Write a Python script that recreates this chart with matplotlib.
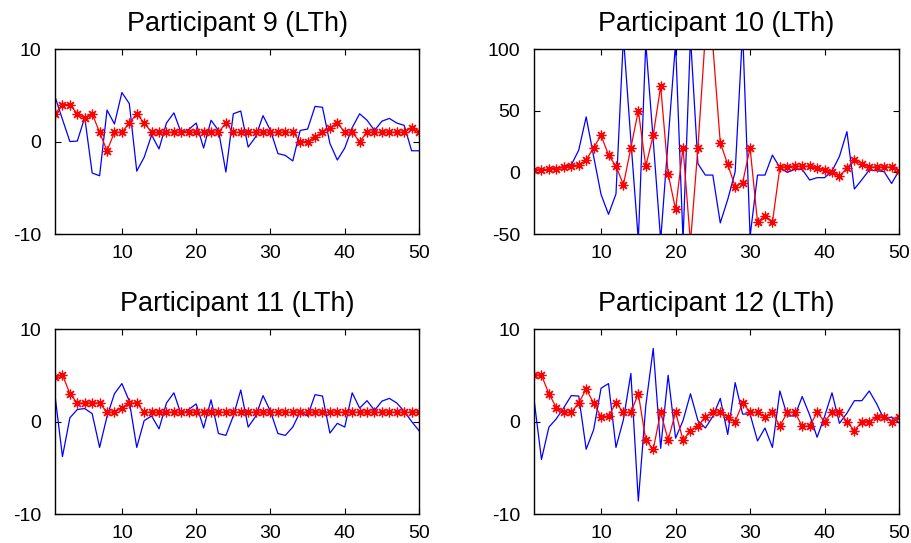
import matplotlib
matplotlib.use('Agg')
import matplotlib.pyplot as plt
import numpy as np

plt.rcParams['font.family'] = ['Liberation Sans', 'DejaVu Sans']
plt.rcParams['axes.unicode_minus'] = False

# trial index (x axis)
trials = np.arange(1, 51)

titles = ['Participant 9 (LTh)', 'Participant 10 (LTh)',
          'Participant 11 (LTh)', 'Participant 12 (LTh)']

# blue line = raw signal, red line with asterisks = estimate
p9_blue = [4.85, 2.4, 0, 0.05, 2.6, -3.4, -3.7, 3.4, 1.9, 5.3,
           4.1, -3.2, -1.7, 0.7, -0.8, 2, 3.1, 0.9, 1.3, 2,
           -0.7, 2.3, 1.2, -3.3, 3.0, 3.3, -0.6, 0.5, 2.8, 1.2,
           -1.3, -1.5, -2.1, 1.2, 1.35, 3.8, 3.7, -0.2, -2, -0.7,
           1.5, 3.0, 2.3, 1.2, 2.2, 2.5, 2, 1.75, -1, -1]
p9_red = [3, 4, 4, 3, 2.5, 3, 1, -1, 1, 1,
          2, 3, 2, 1, 1, 1, 1, 1, 1, 1,
          1, 1, 1, 2, 1, 1, 1, 1, 1, 1,
          1, 1, 1, 0, 0, 0.5, 1, 1.5, 2, 1,
          1, 0, 1, 1, 1, 1, 1, 1, 1.5, 1]

p10_blue = [1.4, 2, 2.5, 3.5, 4.6, 6, 18, 45, 13, -18,
            -34, -17.5, 110, 26, -55, 105, 26, -55, 26, 105,
            -55, 110, 7, -2.2, -2.2, -41, -22, 0.5, 115, -52,
            -2.2, -2.2, 14, 3.8, 0, 2.4, 2.4, -6.2, -4.3, -4.3,
            1, 13, 33, -13.5, -6, 1.9, 1.4, 0.5, -9, 1.4]
p10_red = [2, 2, 2.5, 3, 4, 5, 6, 10, 20, 30,
           14, 5, -10, 20, 50, 5, 30, 70, -1, -30,
           20, -57, 20, 112, 103, 24, 6.5, -11.6, -8.4, 20,
           -40.5, -35, -40.5, 4, 4.6, 5, 5, 5, 3.5, 1.6,
           0, -3, 3.5, 10, 6.8, 4.3, 4.3, 4.3, 4.3, 1.4]

p11_blue = [2.8, -3.8, 0.4, 1.3, 1.4, 0.85, -2.8, 0.55, 3.0, 4.1,
            2.2, -2.8, 0.1, 0.6, -0.8, 2.0, 3.1, 0.7, 1.3, 1.9,
            -0.7, 2.35, -1.3, -1.5, 0.6, 3.4, -0.6, 0.55, 2.8, 1.1,
            -1.3, -1.5, -0.6, 1.05, 0.6, 2.9, 2.75, -1.25, -0.2, -0.6,
            3.1, 1.45, 2.25, 1.2, 2.2, 2.5, 2, 1.1, 0, -1]
p11_red = [4.8, 5.05, 3, 2, 2, 2, 2, 1, 1, 1.5,
           2, 2, 1, 1, 1, 1, 1, 1, 1, 1,
           1, 1, 1, 1, 1, 1, 1, 1, 1, 1,
           1, 1, 1, 1, 1, 1, 1, 1, 1, 1,
           1, 1, 1, 1, 1, 1, 1, 1, 1, 1]

p12_blue = [2.4, -4.1, -0.6, 0.3, 1.5, 2.8, 2.75, -3.0, -0.9, 3.6,
            4.1, -2.8, 0.2, 5.2, -8.6, 1.7, 7.9, -2.9, 5.0, -1.8,
            0.1, 3.0, 0.1, -0.7, 0.55, 2.5, -1.4, 4.2, 0.8, 0.8,
            -2.1, -0.7, -2.8, 3.3, 0.6, 0.6, 2.7, 0.7, -1.7, 0.55,
            3.1, -0.2, 0.9, 2.25, 2.25, 3.3, 1.9, 0.2, 0.5, -0.15]
p12_red = [5, 5, 3, 1.5, 1, 1, 2, 3.5, 2, 0.5,
           0.6, 2, 1, 1, 3, -2, -3, 1, -2, 1,
           -2, -1, -0.5, 0.5, 1, 1, 0.5, 0, 2, 1,
           1, 0.5, 1, -0.5, 1, 1, -0.5, -0.5, 1, 0,
           1, 1, 0, -1, 0, 0, 0.5, 0.5, 0, 0.5]

blues = [p9_blue, p10_blue, p11_blue, p12_blue]
reds = [p9_red, p10_red, p11_red, p12_red]
ylims = [(-10, 10), (-50, 100), (-10, 10), (-10, 10)]
yticks = [[-10, 0, 10], [-50, 0, 50, 100], [-10, 0, 10], [-10, 0, 10]]

fig = plt.figure(figsize=(9.11, 5.43), dpi=100)

# axes boxes in figure fraction (left, bottom, width, height)
boxes = [[0.0604, 0.569, 0.3996, 0.3407],
         [0.5862, 0.569, 0.4007, 0.3407],
         [0.0604, 0.0534, 0.3996, 0.3407],
         [0.5862, 0.0534, 0.4007, 0.3407]]

for k in range(4):
    ax = fig.add_axes(boxes[k])
    ax.plot(trials, blues[k], color='#0000ff', lw=0.9)
    ax.plot(trials, reds[k], color='#ff0000', lw=0.9,
            marker=(8, 2, 0), markersize=7, markeredgewidth=0.9)
    ax.set_xlim(1, 50)
    ax.set_ylim(*ylims[k])
    ax.set_xticks([10, 20, 30, 40, 50])
    ax.set_yticks(yticks[k])
    ax.tick_params(direction='in', length=4, width=0.8, top=True, right=True,
                   labelsize=14, pad=8)
    ax.tick_params(axis='y', pad=10)
    for sp in ax.spines.values():
        sp.set_linewidth(1.0)
    ax.set_title(titles[k], fontsize=19.5, pad=13)

plt.savefig('out.png', dpi=100)
